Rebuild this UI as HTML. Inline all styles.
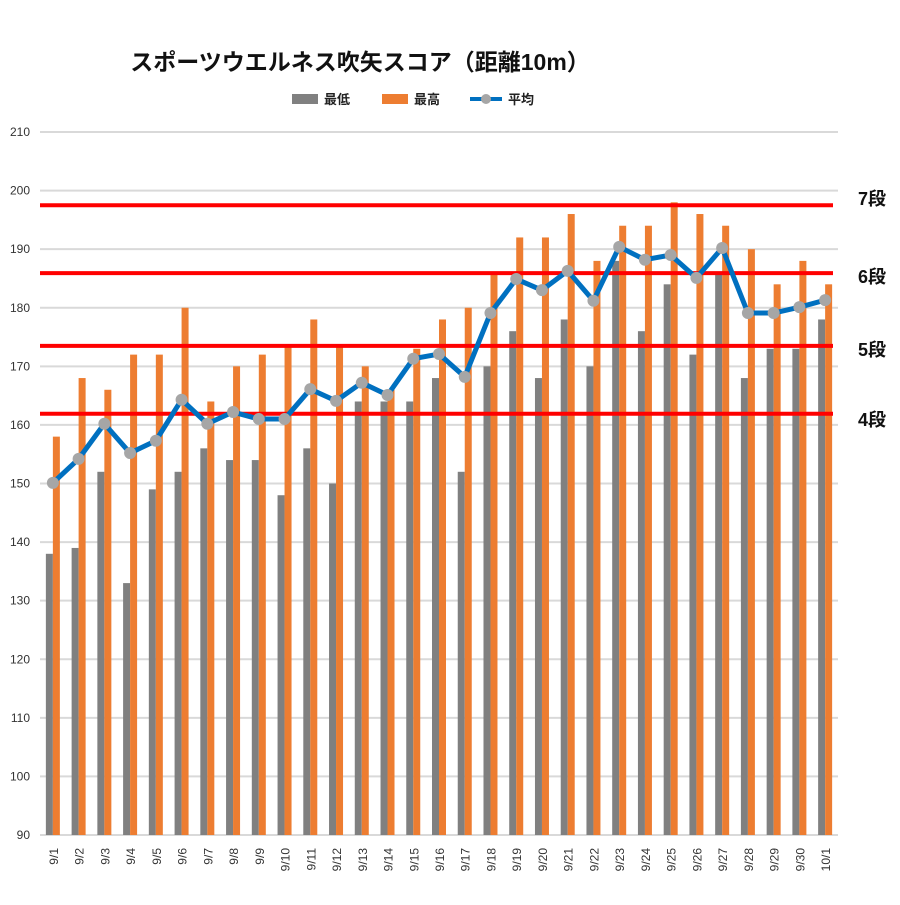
<!DOCTYPE html>
<html><head><meta charset="utf-8"><style>
body{margin:0;background:#fff;}
svg text{font-family:"Liberation Sans","Noto Sans CJK JP",sans-serif;}
</style></head><body>
<svg id="chart" width="900" height="900" viewBox="0 0 900 900">
<text x="360" y="70" text-anchor="middle" font-size="23" font-weight="bold" fill="#111">スポーツウエルネス吹矢スコア（距離10m）</text>
<g>
<rect x="292" y="94" width="26" height="10" fill="#808080"/>
<text x="324" y="104" font-size="13" font-weight="bold" fill="#222">最低</text>
<rect x="382" y="94" width="26" height="10" fill="#ed7d31"/>
<text x="414" y="104" font-size="13" font-weight="bold" fill="#222">最高</text>
<line x1="470" y1="99" x2="502" y2="99" stroke="#0070c0" stroke-width="4"/>
<circle cx="486" cy="99" r="5" fill="#a6a6a6"/>
<text x="508" y="104" font-size="13" font-weight="bold" fill="#222">平均</text>
</g>
<g id="grid"></g><g id="bars"></g><g id="refs"></g><g id="avg"></g><g id="xlabels"></g>
</svg>
<script>
const categories=["9/1","9/2","9/3","9/4","9/5","9/6","9/7","9/8","9/9","9/10","9/11","9/12","9/13","9/14","9/15","9/16","9/17","9/18","9/19","9/20","9/21","9/22","9/23","9/24","9/25","9/26","9/27","9/28","9/29","9/30","10/1"];
const minScores=[138,139,152,133,149,152,156,154,154,148,156,150,164,164,164,168,152,170,176,168,178,170,188,176,184,172,186,168,173,173,178];
const maxScores=[158,168,166,172,172,180,164,170,172,173.5,178,173.5,170,166,173,178,180,186,192,192,196,188,194,194,198,196,194,190,184,188,184];
const avgScores=[150.1,154.2,160.2,155.2,157.3,164.3,160.2,162.2,161,161,166.1,164.1,167.2,165.1,171.3,172.1,168.2,179.1,184.9,183,186.3,181.2,190.4,188.2,189,185.1,190.2,179.1,179.1,180.1,181.3];
const yTicks=[90,100,110,120,130,140,150,160,170,180,190,200,210];
const refValues=[161.9,173.5,185.9,197.5];
const refLabels=["4段","5段","6段","7段"];
const NS="http://www.w3.org/2000/svg";
const X0=40,X1=838,BAND=(X1-X0)/categories.length;
function y(v){return 835-(v-90)*(835-132)/120;}
function xc(i){return X0+BAND*(i+0.5);}
function mk(tag,attrs,parent){const e=document.createElementNS(NS,tag);for(const k in attrs)e.setAttribute(k,attrs[k]);document.getElementById(parent).appendChild(e);return e;}
yTicks.forEach(t=>{
 const l=mk("line",{x1:X0,x2:X1,y1:y(t),y2:y(t),stroke:"#d9d9d9","stroke-width":2},"grid");
 
 
 const tx=mk("text",{x:30,y:y(t)+4,"text-anchor":"end","font-size":12,fill:"#333"},"grid");
 tx.textContent=t;
 
 
});
categories.forEach((c,i)=>{
 const g=mk("rect",{x:xc(i)-7,y:y(minScores[i]),width:7,height:835-y(minScores[i]),fill:"#808080"},"bars");
 
 
 const o=mk("rect",{x:xc(i),y:y(maxScores[i]),width:7,height:835-y(maxScores[i]),fill:"#ed7d31"},"bars");
 
 
 const t=mk("text",{transform:`translate(${xc(i)+5},${848}) rotate(-90)`,"text-anchor":"end","font-size":12,fill:"#333"},"xlabels");
 t.textContent=c;
 
 
});
refValues.forEach((v,i)=>{
 const l=mk("line",{x1:X0,x2:833,y1:y(v),y2:y(v),stroke:"#ff0000","stroke-width":4},"refs");
 
 
 const t=mk("text",{x:872,y:y(v)+(i==3?0:i==0?12:10),"text-anchor":"middle","font-size":18,"font-weight":"bold",fill:"#111"},"refs");
 t.textContent=refLabels[i];
 
 
});
const pts=avgScores.map((v,i)=>xc(i)+","+y(v)).join(" ");
const pl=mk("polyline",{points:pts,fill:"none",stroke:"#0070c0","stroke-width":5,"stroke-linejoin":"round"},"avg");


avgScores.forEach((v,i)=>{
 const c=mk("circle",{cx:xc(i),cy:y(v),r:6,fill:"#a6a6a6"},"avg");
 
 
});
</script>
</body></html>
